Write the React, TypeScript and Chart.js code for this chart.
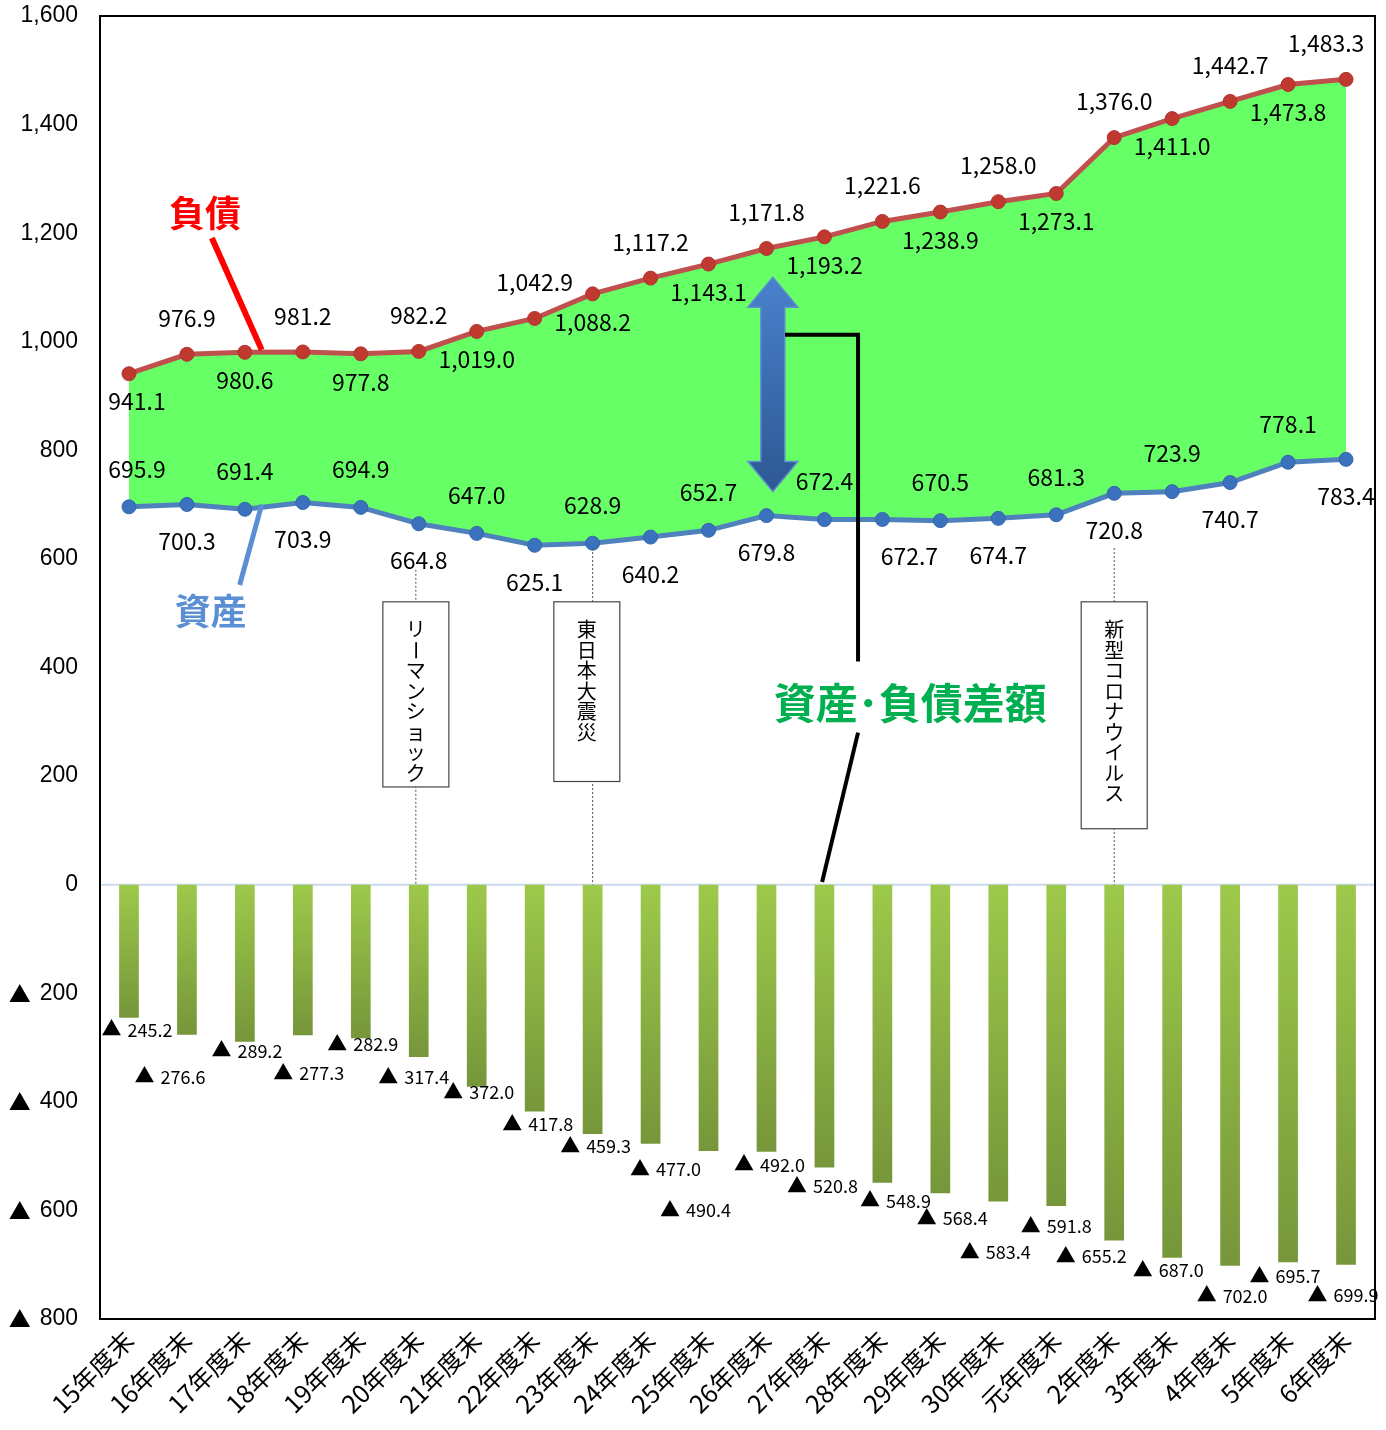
import React, { useEffect, useRef } from 'react';
import { Chart, registerables } from 'chart.js';

Chart.register(...registerables);

const categories = [
  '15年度末', '16年度末', '17年度末', '18年度末', '19年度末', '20年度末', '21年度末', '22年度末',
  '23年度末', '24年度末', '25年度末', '26年度末', '27年度末', '28年度末', '29年度末', '30年度末',
  '元年度末', '2年度末', '3年度末', '4年度末', '5年度末', '6年度末',
];

const liabilities = [
  941.1, 976.9, 980.6, 981.2, 977.8, 982.2, 1019.0, 1042.9, 1088.2, 1117.2, 1143.1,
  1171.8, 1193.2, 1221.6, 1238.9, 1258.0, 1273.1, 1376.0, 1411.0, 1442.7, 1473.8, 1483.3,
];

const assets = [
  695.9, 700.3, 691.4, 703.9, 694.9, 664.8, 647.0, 625.1, 628.9, 640.2, 652.7,
  679.8, 672.4, 672.7, 670.5, 674.7, 681.3, 720.8, 723.9, 740.7, 778.1, 783.4,
];

const netGap = [
  -245.2, -276.6, -289.2, -277.3, -282.9, -317.4, -372.0, -417.8, -459.3, -477.0, -490.4,
  -492.0, -520.8, -548.9, -568.4, -583.4, -591.8, -655.2, -687.0, -702.0, -695.7, -699.9,
];

const yTicks = [-800, -600, -400, -200, 0, 200, 400, 600, 800, 1000, 1200, 1400, 1600];

// label nudges (pixels) for the difference bars' labels
const barLabelDx = [8, -17, 2, 6, 2, -5, 2, 3, 3, 15, -13, 3, -2, 13, 12, -3, 0, -23, -4, 2, -3, -3];
const barLabelDy = [12, 42, 9, 38, 6, 20, 6, 13, 12, 26, 59, 13, 19, 18, 25, 51, 20, 16, 13, 30, 14, 31];

const events = [
  { text: 'リーマンショック', at: 4.95, boxTop: 521, boxBottom: 180, lineTop: 580 },
  { text: '東日本大震災', at: 7.9, lineAt: 8.0, boxTop: 521, boxBottom: 190, lineTop: 620 },
  { text: '新型コロナウイルス', at: 17.0, boxTop: 521, boxBottom: 103, lineTop: 620 },
];

const JP = '"Noto Sans CJK JP", "Noto Sans", sans-serif';
const LAT = '"Liberation Sans", Arial, sans-serif';

const fmt = (v: number) =>
  v.toLocaleString('en-US', { minimumFractionDigits: 1, maximumFractionDigits: 1 });

const overlayPlugin = {
  id: 'overlay',
  beforeDatasetsDraw(chart: any) {
    const { ctx, chartArea, scales } = chart;
    const y0 = scales.y.getPixelForValue(0);
    ctx.save();
    ctx.strokeStyle = '#C9DAF0';
    ctx.lineWidth = 2;
    ctx.beginPath();
    ctx.moveTo(chartArea.left, y0);
    ctx.lineTo(chartArea.right, y0);
    ctx.stroke();
    ctx.restore();
  },
  afterDatasetsDraw(chart: any) {
    const { ctx, chartArea, scales } = chart;
    const X = (i: number) => scales.x.getPixelForValue(i);
    const Y = (v: number) => scales.y.getPixelForValue(v);
    ctx.save();

    // y-axis tick labels
    ctx.fillStyle = '#000';
    ctx.textBaseline = 'middle';
    yTicks.forEach((v) => {
      const ty = Y(v);
      const rx = chartArea.left - 22;
      ctx.textAlign = 'right';
      ctx.font = `23px ${LAT}`;
      const s = Math.abs(v).toLocaleString('en-US');
      ctx.fillText(s, rx, ty);
      if (v < 0) {
        const w = ctx.measureText(s).width;
        ctx.font = `22px ${JP}`;
        ctx.fillText('▲', rx - w - 9, ty);
      }
    });

    // event boxes with dotted lines
    events.forEach((ev) => {
      const lx = X(ev.lineAt ?? ev.at);
      ctx.strokeStyle = '#555';
      ctx.lineWidth = 1;
      ctx.setLineDash([2, 2]);
      ctx.beginPath();
      ctx.moveTo(lx, Y(ev.lineTop));
      ctx.lineTo(lx, Y(0));
      ctx.stroke();
      ctx.setLineDash([]);
      const cx = X(ev.at);
      const w = 66;
      const top = Y(ev.boxTop);
      const bot = Y(ev.boxBottom);
      ctx.fillStyle = '#fff';
      ctx.fillRect(cx - w / 2, top, w, bot - top);
      ctx.strokeStyle = '#444';
      ctx.lineWidth = 1.2;
      ctx.strokeRect(cx - w / 2, top, w, bot - top);
      ctx.fillStyle = '#000';
      ctx.font = `20px ${JP}`;
      ctx.textAlign = 'center';
      ctx.textBaseline = 'middle';
      const chars = Array.from(ev.text);
      const step = 20.5;
      let cy = top + 28;
      chars.forEach((ch) => {
        if (ch === 'ー') {
          ctx.save();
          ctx.translate(cx, cy);
          ctx.rotate(Math.PI / 2);
          ctx.fillText(ch, 0, 0);
          ctx.restore();
        } else {
          ctx.fillText(ch, cx, cy);
        }
        cy += step;
      });
    });

    // line data labels
    ctx.fillStyle = '#000';
    ctx.font = `23px ${JP}`;
    ctx.textAlign = 'center';
    ctx.textBaseline = 'middle';
    const last = liabilities.length - 1;
    liabilities.forEach((v, i) => {
      const dy = i % 2 === 0 ? 28 : -36;
      const dx = i === 0 ? 8 : i === last ? -20 : 0;
      ctx.fillText(fmt(v), X(i) + dx, Y(v) + dy);
    });
    assets.forEach((v, i) => {
      const dy = i % 2 === 0 ? -38 : 37;
      const dx = i === 13 ? 27 : i === 0 ? 8 : 0;
      ctx.fillText(fmt(v), X(i) + dx, Y(v) + dy);
    });

    // bar labels
    netGap.forEach((v, i) => {
      const s = fmt(Math.abs(v));
      const cx = X(i) + barLabelDx[i];
      const cy = Y(v) + barLabelDy[i];
      ctx.font = `18px ${JP}`;
      const tw = ctx.measureText(s).width;
      const triW = 19;
      const gap = 7;
      const total = triW + gap + tw;
      const left = cx - total / 2;
      ctx.textAlign = 'left';
      ctx.fillText(s, left + triW + gap, cy);
      ctx.font = `20px ${JP}`;
      ctx.fillText('▲', left, cy - 1);
    });
    ctx.textAlign = 'center';

    // 負債 annotation
    ctx.strokeStyle = '#FF0000';
    ctx.lineWidth = 6;
    ctx.beginPath();
    ctx.moveTo(X(1.43), Y(1191));
    ctx.lineTo(X(2.29), Y(985));
    ctx.stroke();
    ctx.fillStyle = '#FF0000';
    ctx.font = `bold 36px ${JP}`;
    ctx.fillText('負債', X(1.31), Y(1237));

    // 資産 annotation
    ctx.strokeStyle = '#5B8FD3';
    ctx.lineWidth = 5;
    ctx.beginPath();
    ctx.moveTo(X(1.91), Y(552));
    ctx.lineTo(X(2.29), Y(700));
    ctx.stroke();
    ctx.fillStyle = '#5B8FD3';
    ctx.fillText('資産', X(1.41), Y(503));

    // double arrow
    const ax = X(11.11);
    const at = Y(1119);
    const ab = Y(724);
    const hw = 25;
    const sw = 12;
    const hl = 30;
    const grad = ctx.createLinearGradient(0, at, 0, ab);
    grad.addColorStop(0, '#4A80CC');
    grad.addColorStop(1, '#2D5893');
    ctx.fillStyle = grad;
    ctx.strokeStyle = '#5E8ED0';
    ctx.lineWidth = 1.5;
    ctx.beginPath();
    ctx.moveTo(ax, at);
    ctx.lineTo(ax + hw, at + hl);
    ctx.lineTo(ax + sw, at + hl);
    ctx.lineTo(ax + sw, ab - hl);
    ctx.lineTo(ax + hw, ab - hl);
    ctx.lineTo(ax, ab);
    ctx.lineTo(ax - hw, ab - hl);
    ctx.lineTo(ax - sw, ab - hl);
    ctx.lineTo(ax - sw, at + hl);
    ctx.lineTo(ax - hw, at + hl);
    ctx.closePath();
    ctx.fill();
    ctx.stroke();

    // black leader lines
    ctx.strokeStyle = '#000';
    ctx.lineWidth = 4;
    ctx.beginPath();
    ctx.moveTo(X(11.32), Y(1013));
    ctx.lineTo(X(12.58), Y(1013));
    ctx.lineTo(X(12.58), Y(411));
    ctx.stroke();
    ctx.beginPath();
    ctx.moveTo(X(12.58), Y(280));
    ctx.lineTo(X(11.96), Y(5));
    ctx.stroke();

    ctx.fillStyle = '#00B050';
    ctx.font = `bold 42px ${JP}`;
    ctx.fillText('資産･負債差額', X(13.48), Y(335));

    // plot border
    ctx.strokeStyle = '#000';
    ctx.lineWidth = 2;
    ctx.strokeRect(chartArea.left, chartArea.top, chartArea.right - chartArea.left, chartArea.bottom - chartArea.top);
    ctx.restore();
  },
};

export default function App() {
  const ref = useRef<HTMLCanvasElement | null>(null);
  useEffect(() => {
    document.body.style.margin = '0';
    const canvas = ref.current;
    if (!canvas) return;
    const chart = new Chart(canvas, {
      type: 'bar',
      data: {
        labels: categories,
        datasets: [
          {
            type: 'line',
            label: '負債',
            data: liabilities,
            borderColor: '#C0504D',
            borderWidth: 5,
            pointRadius: 7,
            pointBackgroundColor: '#C0392F',
            pointBorderColor: '#B23434',
            pointBorderWidth: 1,
            backgroundColor: '#66FF66',
            fill: '+1',
            tension: 0,
          } as any,
          {
            type: 'line',
            label: '資産',
            data: assets,
            borderColor: '#4F81BD',
            borderWidth: 5,
            pointRadius: 7,
            pointBackgroundColor: '#3A72BE',
            pointBorderColor: '#3566AA',
            pointBorderWidth: 1,
            fill: false,
            tension: 0,
          } as any,
          {
            type: 'bar',
            label: '資産・負債差額',
            data: netGap,
            barPercentage: 0.34,
            categoryPercentage: 1,
            backgroundColor: (c: any) => {
              const ch = c.chart;
              const { ctx, chartArea, scales } = ch;
              if (!chartArea || c.type !== 'data' || !scales.y) return '#8AB244';
              const y0 = scales.y.getPixelForValue(0);
              const y1 = scales.y.getPixelForValue(c.raw);
              const g = ctx.createLinearGradient(0, y0, 0, y1 + 0.1);
              g.addColorStop(0, '#9DC94B');
              g.addColorStop(1, '#76963A');
              return g;
            },
          } as any,
        ],
      },
      options: {
        responsive: false,
        animation: false,
        devicePixelRatio: 1,
        layout: { padding: { top: 16, right: 11, left: 0, bottom: 0 } },
        plugins: {
          legend: { display: false },
          tooltip: { enabled: false },
          filler: { drawTime: 'beforeDatasetsDraw' },
        } as any,
        scales: {
          x: {
            grid: { display: false, drawTicks: false },
            border: { display: false },
            ticks: {
              autoSkip: false,
              maxRotation: 45,
              minRotation: 45,
              padding: 6,
              color: '#000',
              font: { family: JP, size: 25 },
            },
            afterFit: (s: any) => {
              s.height = 111;
              s.paddingLeft = 0;
              s.paddingRight = 0;
            },
          },
          y: {
            min: -800,
            max: 1600,
            afterBuildTicks: (s: any) => {
              s.ticks = yTicks.map((v) => ({ value: v }));
            },
            grid: { display: false, drawTicks: false },
            border: { display: false },
            ticks: {
              display: false,
            },
            afterFit: (s: any) => {
              s.width = 100;
              s.paddingTop = 0;
              s.paddingBottom = 0;
            },
          },
        },
      },
      plugins: [overlayPlugin],
    });
    return () => chart.destroy();
  }, []);
  return (
    <div style={{ width: 1386, height: 1430 }}>
      <canvas ref={ref} width={1386} height={1430} style={{ display: 'block' }} />
    </div>
  );
}
